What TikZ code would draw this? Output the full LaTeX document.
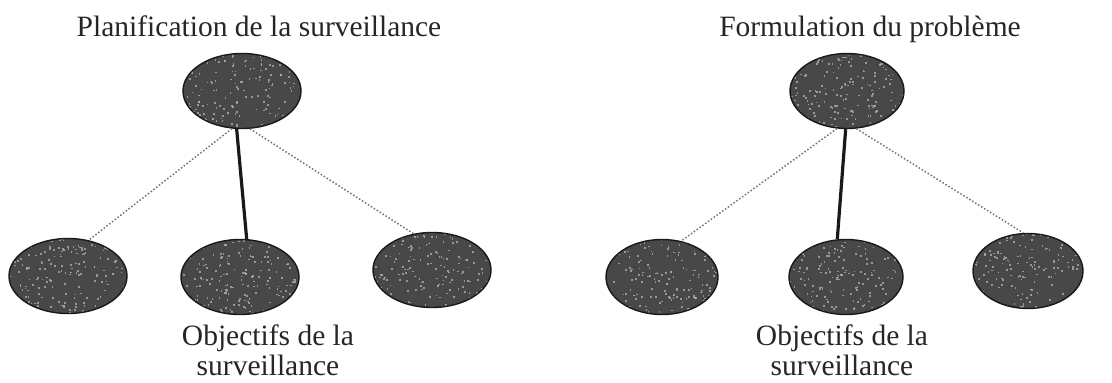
\documentclass[tikz,border=0pt]{standalone}
\usepackage{fontspec}
\setmainfont{Liberation Serif}
\usetikzlibrary{shapes.geometric}
\definecolor{blobfill}{RGB}{72,72,72}
\definecolor{speck}{RGB}{185,185,185}
\definecolor{dotline}{RGB}{115,115,115}
\tikzset{
  blob/.style={ellipse, draw=black!90, line width=1.4pt, fill=blobfill, inner sep=0pt,
    minimum width=118pt, minimum height=75pt,
    path picture={
      \foreach \i in {1,...,190}{
        \pgfmathsetmacro\dx{rnd*2-1}
        \pgfmathsetmacro\dy{rnd*2-1}
        \fill[speck, opacity=0.7] ([shift={(\dx*60,\dy*40)}]path picture bounding box.center) rectangle ++(1.7,1.7);
      }
    }},
  label text/.style={font=\fontsize{29.5}{30}\selectfont, inner sep=0pt, anchor=base, text=black!85},
  weak/.style={dotline, line width=1.5pt, dotted},
  strong/.style={black!90, line width=3.2pt}
}
\begin{document}
\begin{tikzpicture}[x=1pt, y=-1pt]
\pgfmathsetseed{7}
\useasboundingbox (0,0) rectangle (1112,383);
% left tree
\node[label text] (t1) at (259,36) {Planification de la surveillance};
\node[blob] (a) at (242,91) {};
\node[blob] (a1) at (68,276) {};
\node[blob] (a2) at (240,277) {};
\node[blob] (a3) at (432,270) {};
\draw[weak] (a.255) -- (a1.60);
\draw[strong] (a.262) -- (a2.80);
\draw[weak] (a.282) -- (a3.117);
\node[label text] (o1) at (268,345) {Objectifs de la};
\node[label text] (s1) at (268,375) {surveillance};
% right tree
\node[label text] (t2) at (870,36) {Formulation du problème};
\node[blob, minimum width=114pt] (b) at (847,91) {};
\node[blob, minimum width=112pt] (b1) at (662,277) {};
\node[blob, minimum width=114pt] (b2) at (846,277) {};
\node[blob, minimum width=110pt] (b3) at (1028,271) {};
\draw[weak] (b.255) -- (b1.62);
\draw[strong] (b.268) -- (b2.103);
\draw[weak] (b.284) -- (b3.97);
\node[label text] (o2) at (842,345) {Objectifs de la};
\node[label text] (s2) at (842,375) {surveillance};
\end{tikzpicture}
\end{document}
